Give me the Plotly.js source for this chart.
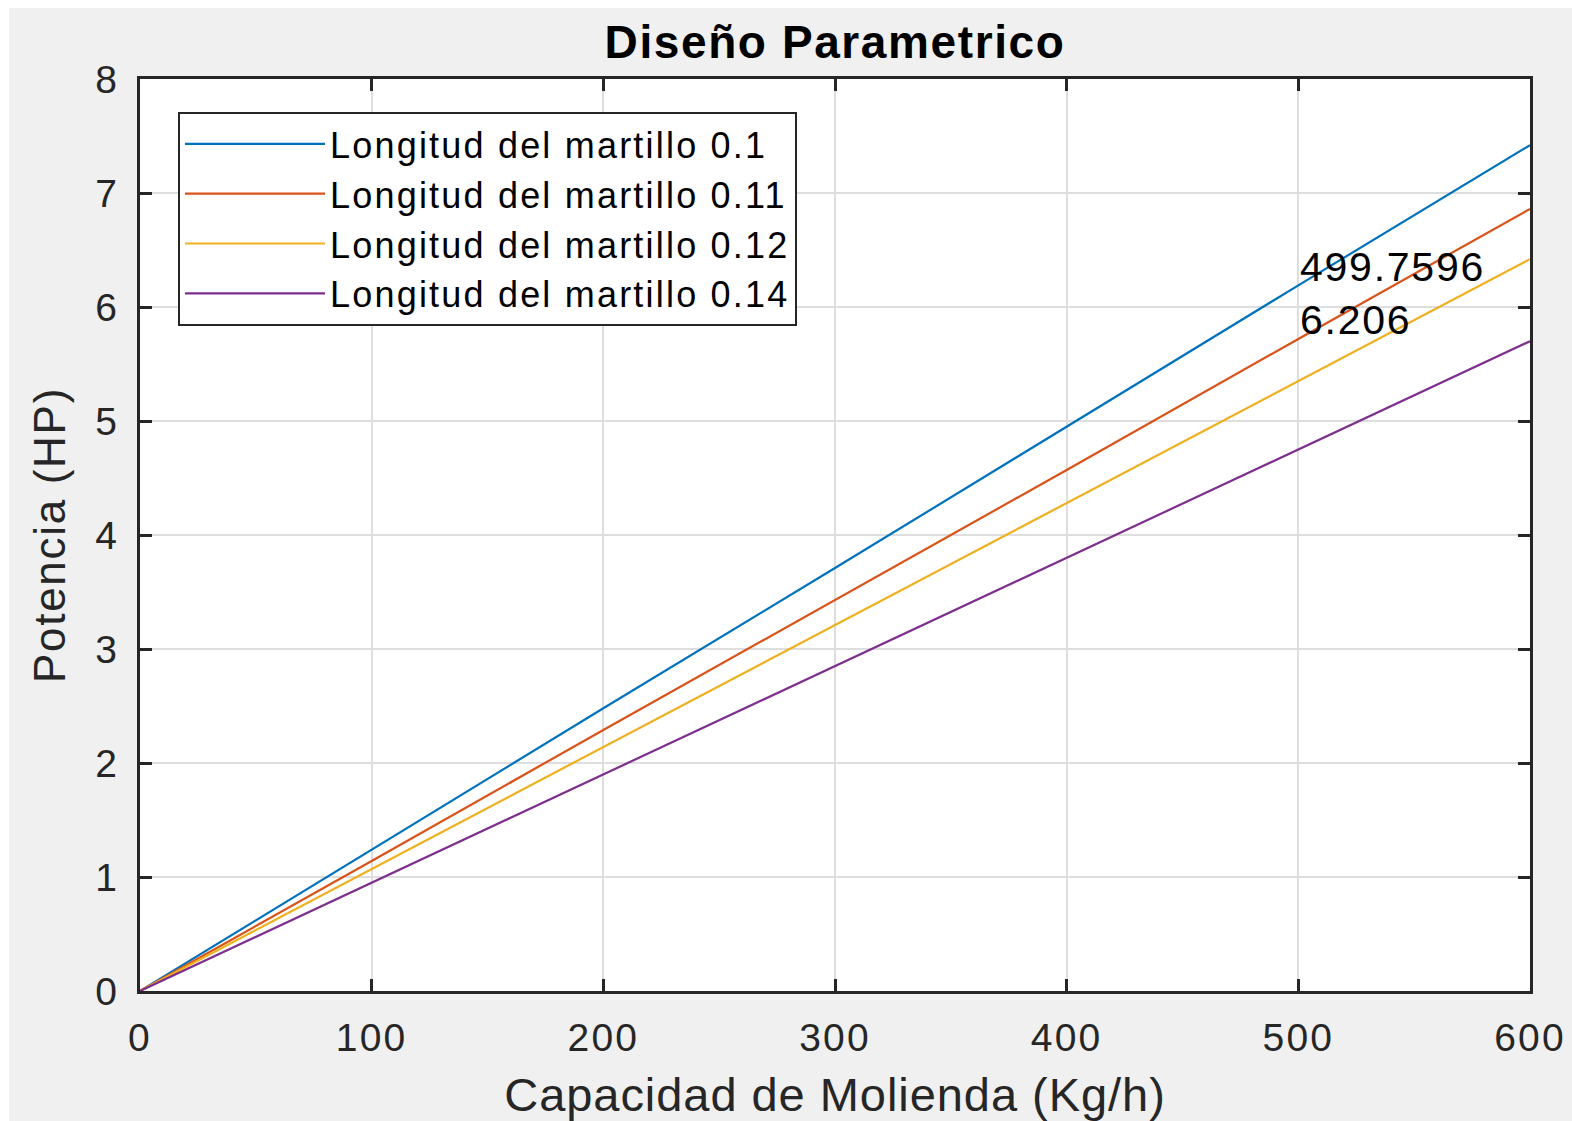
<!DOCTYPE html>
<html>
<head>
<meta charset="utf-8">
<script src="https://cdn.plot.ly/plotly-3.0.1.min.js"></script>
<style>
  html, body { margin: 0; padding: 0; background: #ffffff; }
  #chart { position: absolute; left: 9px; top: 8px; width: 1563px; height: 1113px; }
  .legendtext { letter-spacing: 2.2px; }
  .gtitle { letter-spacing: 1.6px; }
  .xtitle { letter-spacing: 0.95px; }
  .ytitle { letter-spacing: 1.7px; }
  .annotation-text { letter-spacing: 1.75px; }
  .xtick text, .ytick text { letter-spacing: 2.2px; }
</style>
</head>
<body>
<div id="chart"></div>
<script>
// Data
const capacidad = [0, 100, 200, 300, 400, 500, 600];
const potencia_010 = [0, 1.24, 2.48, 3.71, 4.95, 6.19, 7.42];
const potencia_011 = [0, 1.14, 2.29, 3.43, 4.57, 5.72, 6.86];
const potencia_012 = [0, 1.07, 2.14, 3.21, 4.28, 5.35, 6.42];
const potencia_014 = [0, 0.95, 1.90, 2.85, 3.80, 4.75, 5.70];
const seriesNames = ["Longitud del martillo 0.1", "Longitud del martillo 0.11",
                     "Longitud del martillo 0.12", "Longitud del martillo 0.14"];
const xTicks = [0, 100, 200, 300, 400, 500, 600];
const yTicks = [0, 1, 2, 3, 4, 5, 6, 7, 8];
const tipX = 499.7596;
const tipY = 6.206;

const colors = ["#0072BD", "#D95319", "#EDB120", "#7E2F8E"];
const ys = [potencia_010, potencia_011, potencia_012, potencia_014];
const FONT = "Liberation Sans, Arial, Helvetica, sans-serif";

const traces = ys.map((y, i) => ({
  x: capacidad, y: y, type: "scatter", mode: "lines",
  name: seriesNames[i],
  line: { color: colors[i], width: 2.2 }
}));

const axisCommon = {
  showline: true, linecolor: "#262626", linewidth: 3, mirror: "ticks",
  ticks: "inside", ticklen: 12, tickwidth: 3, tickcolor: "#262626",
  showgrid: true, gridcolor: "#dedede", gridwidth: 2,
  zeroline: false,
  tickfont: { family: FONT, size: 39, color: "#262626" }
};

const layout = {
  width: 1563, height: 1113,
  paper_bgcolor: "#f0f0f0", plot_bgcolor: "#ffffff",
  margin: { l: 131, r: 42, t: 71, b: 130 },
  showlegend: true,
  title: {
    text: "<b>Diseño Parametrico</b>",
    font: { family: FONT, size: 46, color: "#000000" },
    x: 0.5, xref: "paper", xanchor: "center",
    y: 1 - 34 / 1113, yref: "container", yanchor: "middle"
  },
  xaxis: Object.assign({}, axisCommon, {
    range: [0, 600], tickvals: xTicks, ticktext: xTicks.map(String),
    ticklabelstandoff: 10,
    title: { text: "Capacidad de Molienda (Kg/h)", standoff: 22,
             font: { family: FONT, size: 47, color: "#262626" } }
  }),
  yaxis: Object.assign({}, axisCommon, {
    range: [0, 8], tickvals: yTicks, ticktext: yTicks.map(String),
    ticklabelstandoff: 10,
    title: { text: "Potencia (HP)", standoff: 16,
             font: { family: FONT, size: 44, color: "#262626" } }
  }),
  legend: {
    x: 38 / 1390, y: 1 - 33 / 912, xanchor: "left", yanchor: "top",
    bgcolor: "#ffffff", bordercolor: "#262626", borderwidth: 2,
    font: { family: FONT, size: 36, color: "#000000" },
    itemwidth: 140, tracegroupgap: 0
  },
  annotations: [{
    x: tipX, y: tipY, xref: "x", yref: "y",
    text: tipX.toFixed(4) + "<br>" + tipY.toFixed(3),
    showarrow: false, xanchor: "left", yanchor: "middle", align: "left",
    yshift: -10,
    font: { family: FONT, size: 41, color: "#000000" }
  }]
};

Plotly.newPlot("chart", traces, layout, { displayModeBar: false, staticPlot: true });
</script>
</body>
</html>
